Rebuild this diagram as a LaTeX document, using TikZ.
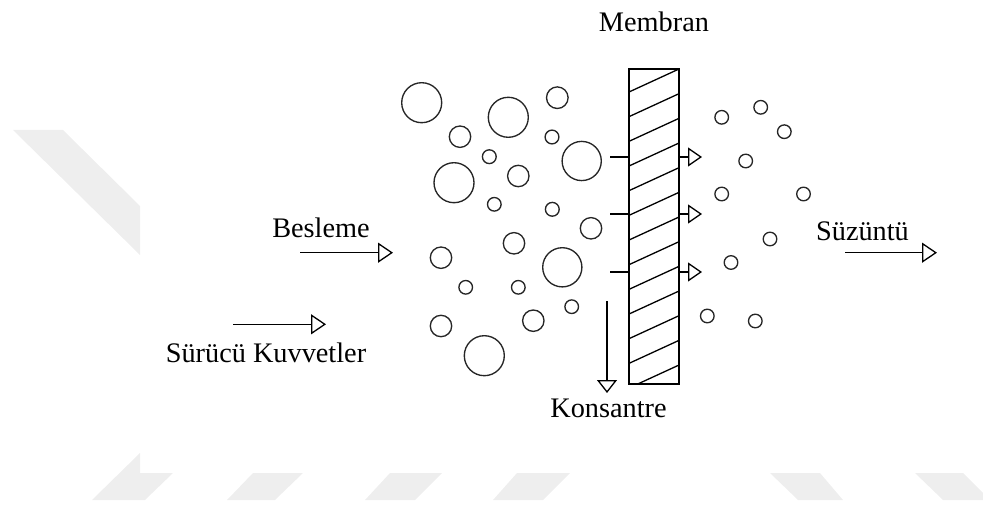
\documentclass[tikz,border=0pt]{standalone}
\usepackage{fontspec}
\setmainfont{Liberation Serif}
\usetikzlibrary{arrows.meta}
\definecolor{wm}{RGB}{238,238,238}
\begin{document}
\begin{tikzpicture}[x=1pt,y=-1pt,
  lbl/.style={font=\fontsize{28.3}{34}\selectfont, inner sep=0pt, anchor=base},
  bubble/.style={draw=black!85, line width=1.35pt},
  thin line/.style={line width=1.3pt},
  flow/.style={line width=1.3pt, -{Triangle[open, length=14pt, width=19pt, line width=1.3pt]}},
  shade band/.style={fill=wm, draw=none}]
\useasboundingbox (0,0) rectangle (983,505);

% faint background bands
\fill[shade band] (13,130) -- (63,130) -- (140,206) -- (140,255) -- cycle;
\fill[shade band] (92,500) -- (145,500) -- (173,473) -- (140,473) -- (140,453) -- cycle;
\fill[shade band] (227,500) -- (275,500) -- (303,473) -- (253,473) -- cycle;
\fill[shade band] (365,500) -- (415,500) -- (442,473) -- (390,473) -- cycle;
\fill[shade band] (493,500) -- (543,500) -- (570,473) -- (517,473) -- cycle;
\fill[shade band] (770,473) -- (820,473) -- (843,500) -- (798,500) -- cycle;
\fill[shade band] (915,473) -- (963,473) -- (983,493) -- (983,500) -- (943,500) -- cycle;

% membrane with hatching
\node[draw, line width=1.4pt, minimum width=50pt, minimum height=315pt,
      inner sep=0pt, outer sep=0pt] (membrane) at (654,226.5) {};
\begin{scope}
  \clip (membrane.south west) rectangle (membrane.north east);
  \foreach \k in {0,...,12}
    \draw[thin line] (629,{92+24.67*\k}) -- (679,{69+24.67*\k});
\end{scope}
\node[lbl] (membran) at (654,31.5) {Membran};

% feed particles
\foreach \x/\y/\r in {421.7/102.7/20, 460/136.7/10.7, 508.3/117.3/20, 557.3/97.7/10.8,
  552/137/6.9, 489.3/156.7/6.9, 454/182.7/20, 518.3/176/10.7, 581.7/161/19.6,
  494.3/204.3/6.8, 552.3/209.3/6.9, 591/228.3/10.7, 514/243.3/10.7, 441/257.7/10.7,
  562.3/267.3/19.6, 465.7/287.3/6.8, 518.3/287.3/6.8, 571.7/306.7/6.8,
  441/326/10.7, 533.3/320.7/10.7, 484.3/355.7/20}
  \draw[bubble] (\x,\y) circle[radius=\r pt];

% permeate particles
\foreach \x/\y in {721.7/117.3, 760.7/107.3, 784.3/131.7, 745.7/161, 721.7/194,
  803.5/194, 770/239, 731/262.5, 707.3/316, 755.3/321}
  \draw[bubble] (\x,\y) circle[radius=6.8pt];

% flow through the membrane
\foreach \yy [count=\i] in {157,214,272} {
  \coordinate (in\i) at (610,\yy);
  \coordinate (out\i) at (702,\yy);
  \draw[thin line] (in\i) -- (in\i -| membrane.west);
  \draw[flow] (out\i -| membrane.east) -- (out\i);
}

% feed
\node[lbl] (besleme) at (321,238) {Besleme};
\coordinate (bs) at (300,252.7);
\coordinate (be) at (393,252.7);
\draw[flow, -{Triangle[open, length=15pt, width=20pt, line width=1.3pt]}] (bs) -- (be);

% driving forces
\coordinate (ds) at (233,324.3);
\coordinate (de) at (326,324.3);
\draw[flow, -{Triangle[open, length=15pt, width=20pt, line width=1.3pt]}] (ds) -- (de);
\node[lbl] (kuvvet) at (266,362.7) {Sürücü Kuvvetler};

% permeate
\node[lbl] (suzuntu) at (862.5,240.7) {Süzüntü};
\coordinate (ps) at (845,252.7);
\coordinate (pe) at (937,252.7);
\draw[flow, -{Triangle[open, length=15pt, width=20pt, line width=1.3pt]}] (ps) -- (pe);

% concentrate
\coordinate (ks) at (607,301);
\coordinate (ke) at (607,393);
\draw[flow, -{Triangle[open, length=13pt, width=20pt, line width=1.3pt]}] (ks) -- (ke);
\node[lbl] (konsantre) at (608.5,417) {Konsantre};
\end{tikzpicture}
\end{document}
